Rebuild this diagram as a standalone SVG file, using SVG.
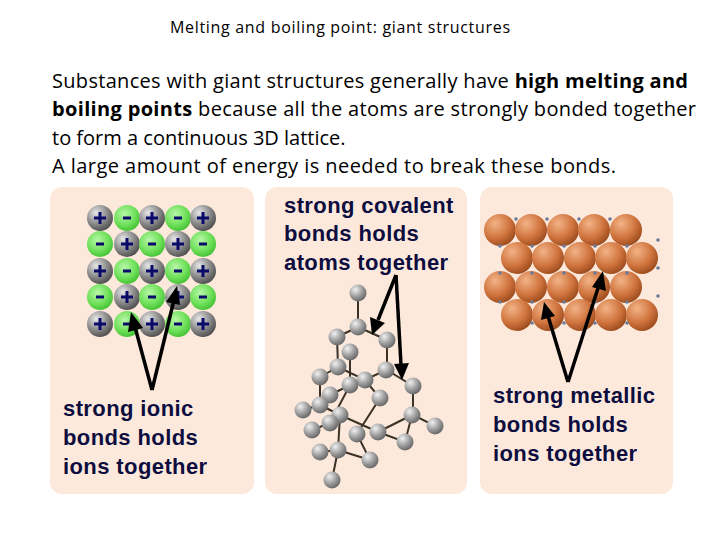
<svg xmlns="http://www.w3.org/2000/svg" width="720" height="540" viewBox="0 0 720 540">
<defs>
<radialGradient id="gr" cx="0.35" cy="0.3" r="0.7"><stop offset="0" stop-color="#e8e8e8"/><stop offset="0.5" stop-color="#9a9a9a"/><stop offset="1" stop-color="#555"/></radialGradient>
<radialGradient id="gn" cx="0.4" cy="0.35" r="0.7"><stop offset="0" stop-color="#b8f7a8"/><stop offset="0.6" stop-color="#6fe05a"/><stop offset="1" stop-color="#3fbf30"/></radialGradient>
<radialGradient id="cu" cx="0.35" cy="0.3" r="0.75"><stop offset="0" stop-color="#f2b386"/><stop offset="0.6" stop-color="#d0743e"/><stop offset="1" stop-color="#9a4a1c"/></radialGradient>
<radialGradient id="at" cx="0.35" cy="0.3" r="0.7"><stop offset="0" stop-color="#f0f0f0"/><stop offset="0.6" stop-color="#9c9c9c"/><stop offset="1" stop-color="#6a6a6a"/></radialGradient>
<g id="p"><circle r="13" fill="url(#gr)"/><path d="M-6,0H6M0,-6V6" stroke="#0a0a6a" stroke-width="3"/></g>
<g id="m"><circle r="13" fill="url(#gn)"/><path d="M-4,0H4" stroke="#0a0a6a" stroke-width="3"/></g>
<circle id="c" r="16" fill="url(#cu)"/>
<circle id="a" r="8.5" fill="url(#at)"/>
</defs>
<style>
text{font-family:"Open Sans","Liberation Sans",sans-serif;fill:#000}
.lab{font-family:"Liberation Sans",Arial,sans-serif;font-size:22px;font-weight:bold;letter-spacing:0.4px;fill:#0d0d40}
.ar{stroke:#000;stroke-width:3.5;fill:none}
.bd{stroke:#3a3226;stroke-width:2;fill:none}
</style>
<rect width="720" height="540" fill="#fff"/>
<text x="170" y="33" font-size="16" textLength="340">Melting and boiling point: giant structures</text>
<g font-size="20">
<text x="52" y="88" textLength="636">Substances with giant structures generally have <tspan font-weight="bold">high melting and</tspan></text>
<text x="52" y="116" textLength="644"><tspan font-weight="bold">boiling points</tspan> because all the atoms are strongly bonded together</text>
<text x="52" y="145">to form a continuous 3D lattice.</text>
<text x="52" y="173" textLength="564">A large amount of energy is needed to break these bonds.</text>
</g>
<g id="ionic">
<rect x="50" y="187" width="204" height="307" rx="12" fill="#fde9dc"/>
<use href="#p" x="100" y="218"/><use href="#m" x="127" y="218"/><use href="#p" x="152" y="218"/><use href="#m" x="178" y="218"/><use href="#p" x="203" y="218"/>
<use href="#m" x="100" y="244"/><use href="#p" x="127" y="244"/><use href="#m" x="152" y="244"/><use href="#p" x="178" y="244"/><use href="#m" x="203" y="244"/>
<use href="#p" x="100" y="271"/><use href="#m" x="127" y="271"/><use href="#p" x="152" y="271"/><use href="#m" x="178" y="271"/><use href="#p" x="203" y="271"/>
<use href="#m" x="100" y="297"/><use href="#p" x="127" y="297"/><use href="#m" x="152" y="297"/><use href="#p" x="178" y="297"/><use href="#m" x="203" y="297"/>
<use href="#p" x="100" y="324"/><use href="#m" x="127" y="324"/><use href="#p" x="152" y="324"/><use href="#m" x="178" y="324"/><use href="#p" x="203" y="324"/>
<text class="lab" x="63" y="416">strong ionic</text>
<text class="lab" x="63" y="445">bonds holds</text>
<text class="lab" x="63" y="474">ions together</text>
</g>
<g id="covalent">
<rect x="265" y="187" width="202" height="307" rx="12" fill="#fde9dc"/>
<path class="bd" d="M358,293V327L337,337M358,327L387,340V370L413,386V415L435,426M412,415L378,432M337,337L338,367L320,377L320,405L303,410M338,367L365,380L386,370M350,352V385L330,423M365,380L380,398L357,434M320,405L340,415L378,432L405,442L412,415M330,423L312,430M340,415L338,450L320,452M338,450L370,460L357,434M338,450L332,480M330,395L350,385"/>
<use href="#a" x="358" y="293"/><use href="#a" x="337" y="337"/><use href="#a" x="387" y="340"/><use href="#a" x="358" y="327"/>
<use href="#a" x="350" y="352"/><use href="#a" x="338" y="367"/><use href="#a" x="386" y="370"/><use href="#a" x="320" y="377"/>
<use href="#a" x="365" y="380"/><use href="#a" x="350" y="385"/><use href="#a" x="413" y="386"/><use href="#a" x="330" y="395"/>
<use href="#a" x="380" y="398"/><use href="#a" x="320" y="405"/><use href="#a" x="303" y="410"/><use href="#a" x="340" y="415"/>
<use href="#a" x="412" y="415"/><use href="#a" x="435" y="426"/><use href="#a" x="330" y="423"/><use href="#a" x="312" y="430"/>
<use href="#a" x="378" y="432"/><use href="#a" x="357" y="434"/><use href="#a" x="405" y="442"/><use href="#a" x="338" y="450"/>
<use href="#a" x="320" y="452"/><use href="#a" x="370" y="460"/><use href="#a" x="332" y="480"/>
<text class="lab" x="284" y="213">strong covalent</text>
<text class="lab" x="284" y="241">bonds holds</text>
<text class="lab" x="284" y="270">atoms together</text>
</g>
<g id="metallic">
<rect x="480" y="187" width="193" height="307" rx="12" fill="#fde9dc"/>
<use href="#c" x="500" y="230"/><use href="#c" x="531" y="230"/><use href="#c" x="563" y="230"/><use href="#c" x="594" y="230"/><use href="#c" x="626" y="230"/>
<use href="#c" x="517" y="258"/><use href="#c" x="548" y="258"/><use href="#c" x="580" y="258"/><use href="#c" x="611" y="258"/><use href="#c" x="642" y="258"/>
<use href="#c" x="500" y="287"/><use href="#c" x="531" y="287"/><use href="#c" x="563" y="287"/><use href="#c" x="594" y="287"/><use href="#c" x="626" y="287"/>
<use href="#c" x="517" y="315"/><use href="#c" x="548" y="315"/><use href="#c" x="580" y="315"/><use href="#c" x="611" y="315"/><use href="#c" x="642" y="315"/>
<g fill="#6a7a9a">
<circle cx="516" cy="219" r="1.8"/><circle cx="547" cy="219" r="1.8"/><circle cx="579" cy="219" r="1.8"/><circle cx="610" cy="219" r="1.8"/>
<circle cx="500" cy="246" r="1.8"/><circle cx="532" cy="246" r="1.8"/><circle cx="564" cy="246" r="1.8"/><circle cx="595" cy="246" r="1.8"/><circle cx="627" cy="246" r="1.8"/><circle cx="658" cy="240" r="1.8"/>
<circle cx="500" cy="273" r="1.8"/><circle cx="532" cy="273" r="1.8"/><circle cx="564" cy="273" r="1.8"/><circle cx="595" cy="273" r="1.8"/><circle cx="627" cy="273" r="1.8"/><circle cx="658" cy="268" r="1.8"/>
<circle cx="500" cy="302" r="1.8"/><circle cx="532" cy="302" r="1.8"/><circle cx="564" cy="302" r="1.8"/><circle cx="595" cy="302" r="1.8"/><circle cx="627" cy="302" r="1.8"/><circle cx="658" cy="296" r="1.8"/>
<circle cx="532" cy="323" r="1.8"/><circle cx="564" cy="323" r="1.8"/><circle cx="595" cy="323" r="1.8"/><circle cx="627" cy="323" r="1.8"/>
</g>
<text class="lab" x="493" y="403">strong metallic</text>
<text class="lab" x="493" y="432">bonds holds</text>
<text class="lab" x="493" y="461">ions together</text>
</g>
<g id="connectors" fill="#000">
<path class="ar" d="M152,390L135,327"/><path d="M131,312L128,332L143,328z"/>
<path class="ar" d="M152,390L174,300"/><path d="M177,286L166,302L180,305z"/>
<path class="ar" d="M396,275L378,320"/><path d="M372,335L370,317L385,323z"/>
<path class="ar" d="M396,275L401,365"/><path d="M402,380L394,364L409,363z"/>
<path class="ar" d="M568,382L548,316"/><path d="M544,302L541,320L555,316z"/>
<path class="ar" d="M568,382L599,285"/><path d="M603,271L592,287L606,291z"/>
</g>
</svg>
